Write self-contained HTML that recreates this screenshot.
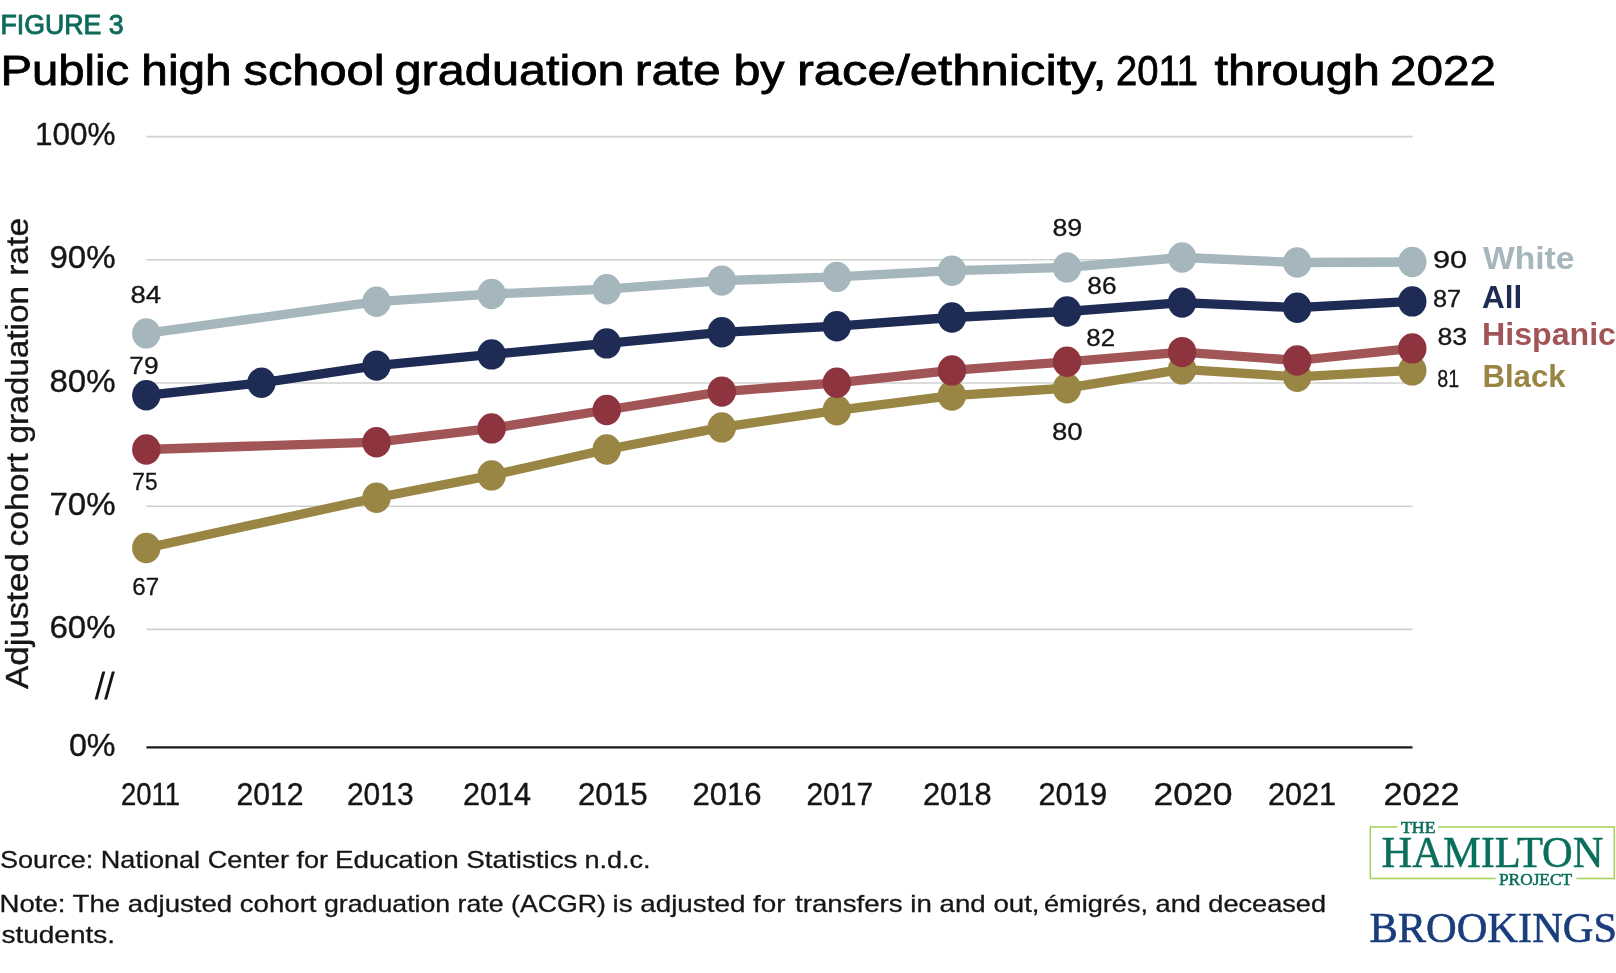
<!DOCTYPE html>
<html lang="en"><head><meta charset="utf-8"><title>Figure 3</title>
<style>
html,body{margin:0;padding:0;background:#fff;}
body{width:1616px;height:973px;overflow:hidden;font-family:"Liberation Sans",sans-serif;}
svg{display:block;will-change:transform;}
svg text{font-family:"Liberation Sans",sans-serif;}
svg text.serif{font-family:"Liberation Serif",serif;}
</style></head><body>
<svg width="1616" height="973" viewBox="0 0 1616 973">
<rect width="1616" height="973" fill="#fff"/>
<line x1="146.5" x2="1412.5" y1="136.6" y2="136.6" stroke="#d0d0d0" stroke-width="1.6"/>
<line x1="146.5" x2="1412.5" y1="259.8" y2="259.8" stroke="#d0d0d0" stroke-width="1.6"/>
<line x1="146.5" x2="1412.5" y1="383.0" y2="383.0" stroke="#d0d0d0" stroke-width="1.6"/>
<line x1="146.5" x2="1412.5" y1="506.2" y2="506.2" stroke="#d0d0d0" stroke-width="1.6"/>
<line x1="146.5" x2="1412.5" y1="629.4" y2="629.4" stroke="#d0d0d0" stroke-width="1.6"/>
<line x1="146.5" x2="1412.5" y1="747.4" y2="747.4" stroke="#1a1a1a" stroke-width="2.2"/>
<path d="M94.6 699.5 H97.6 L105.3 671.6 H102.3 Z M104.1 699.5 H107.1 L114.9 671.6 H111.9 Z" fill="#161616"/>
<polyline points="146.3,548.0 376.5,497.8 491.6,475.4 606.7,449.5 721.8,427.4 836.8,410.3 951.9,395.6 1067.0,388.2 1182.1,369.4 1297.2,376.8 1412.3,370.4" fill="none" stroke="#9a8644" stroke-width="9.3" stroke-linejoin="round" stroke-linecap="round"/>
<ellipse cx="146.3" cy="548.0" rx="14.2" ry="15.2" fill="#9a8644"/><ellipse cx="376.5" cy="497.8" rx="14.2" ry="15.2" fill="#9a8644"/><ellipse cx="491.6" cy="475.4" rx="14.2" ry="15.2" fill="#9a8644"/><ellipse cx="606.7" cy="449.5" rx="14.2" ry="15.2" fill="#9a8644"/><ellipse cx="721.8" cy="427.4" rx="14.2" ry="15.2" fill="#9a8644"/><ellipse cx="836.8" cy="410.3" rx="14.2" ry="15.2" fill="#9a8644"/><ellipse cx="951.9" cy="395.6" rx="14.2" ry="15.2" fill="#9a8644"/><ellipse cx="1067.0" cy="388.2" rx="14.2" ry="15.2" fill="#9a8644"/><ellipse cx="1182.1" cy="369.4" rx="14.2" ry="15.2" fill="#9a8644"/><ellipse cx="1297.2" cy="376.8" rx="14.2" ry="15.2" fill="#9a8644"/><ellipse cx="1412.3" cy="370.4" rx="14.2" ry="15.2" fill="#9a8644"/>
<polyline points="146.3,449.5 376.5,442.2 491.6,428.4 606.7,410.0 721.8,391.6 836.8,382.8 951.9,370.4 1067.0,361.8 1182.1,352.1 1297.2,360.5 1412.3,348.4" fill="none" stroke="#a25557" stroke-width="9.3" stroke-linejoin="round" stroke-linecap="round"/>
<ellipse cx="146.3" cy="449.5" rx="14.2" ry="15.2" fill="#8e343e"/><ellipse cx="376.5" cy="442.2" rx="14.2" ry="15.2" fill="#8e343e"/><ellipse cx="491.6" cy="428.4" rx="14.2" ry="15.2" fill="#8e343e"/><ellipse cx="606.7" cy="410.0" rx="14.2" ry="15.2" fill="#8e343e"/><ellipse cx="721.8" cy="391.6" rx="14.2" ry="15.2" fill="#8e343e"/><ellipse cx="836.8" cy="382.8" rx="14.2" ry="15.2" fill="#8e343e"/><ellipse cx="951.9" cy="370.4" rx="14.2" ry="15.2" fill="#8e343e"/><ellipse cx="1067.0" cy="361.8" rx="14.2" ry="15.2" fill="#8e343e"/><ellipse cx="1182.1" cy="352.1" rx="14.2" ry="15.2" fill="#8e343e"/><ellipse cx="1297.2" cy="360.5" rx="14.2" ry="15.2" fill="#8e343e"/><ellipse cx="1412.3" cy="348.4" rx="14.2" ry="15.2" fill="#8e343e"/>
<polyline points="146.3,395.3 261.4,382.8 376.5,365.6 491.6,354.4 606.7,343.4 721.8,332.3 836.8,326.2 951.9,317.5 1067.0,311.5 1182.1,302.6 1297.2,307.7 1412.3,301.4" fill="none" stroke="#1e2b54" stroke-width="9.3" stroke-linejoin="round" stroke-linecap="round"/>
<ellipse cx="146.3" cy="395.3" rx="14.2" ry="15.2" fill="#1e2b54"/><ellipse cx="261.4" cy="382.8" rx="14.2" ry="15.2" fill="#1e2b54"/><ellipse cx="376.5" cy="365.6" rx="14.2" ry="15.2" fill="#1e2b54"/><ellipse cx="491.6" cy="354.4" rx="14.2" ry="15.2" fill="#1e2b54"/><ellipse cx="606.7" cy="343.4" rx="14.2" ry="15.2" fill="#1e2b54"/><ellipse cx="721.8" cy="332.3" rx="14.2" ry="15.2" fill="#1e2b54"/><ellipse cx="836.8" cy="326.2" rx="14.2" ry="15.2" fill="#1e2b54"/><ellipse cx="951.9" cy="317.5" rx="14.2" ry="15.2" fill="#1e2b54"/><ellipse cx="1067.0" cy="311.5" rx="14.2" ry="15.2" fill="#1e2b54"/><ellipse cx="1182.1" cy="302.6" rx="14.2" ry="15.2" fill="#1e2b54"/><ellipse cx="1297.2" cy="307.7" rx="14.2" ry="15.2" fill="#1e2b54"/><ellipse cx="1412.3" cy="301.4" rx="14.2" ry="15.2" fill="#1e2b54"/>
<polyline points="146.3,333.4 376.5,301.7 491.6,294.0 606.7,289.2 721.8,280.6 836.8,276.9 951.9,270.7 1067.0,267.4 1182.1,257.5 1297.2,262.5 1412.3,262.0" fill="none" stroke="#a5b7bc" stroke-width="9.3" stroke-linejoin="round" stroke-linecap="round"/>
<ellipse cx="146.3" cy="333.4" rx="14.2" ry="15.2" fill="#a5b7bc"/><ellipse cx="376.5" cy="301.7" rx="14.2" ry="15.2" fill="#a5b7bc"/><ellipse cx="491.6" cy="294.0" rx="14.2" ry="15.2" fill="#a5b7bc"/><ellipse cx="606.7" cy="289.2" rx="14.2" ry="15.2" fill="#a5b7bc"/><ellipse cx="721.8" cy="280.6" rx="14.2" ry="15.2" fill="#a5b7bc"/><ellipse cx="836.8" cy="276.9" rx="14.2" ry="15.2" fill="#a5b7bc"/><ellipse cx="951.9" cy="270.7" rx="14.2" ry="15.2" fill="#a5b7bc"/><ellipse cx="1067.0" cy="267.4" rx="14.2" ry="15.2" fill="#a5b7bc"/><ellipse cx="1182.1" cy="257.5" rx="14.2" ry="15.2" fill="#a5b7bc"/><ellipse cx="1297.2" cy="262.5" rx="14.2" ry="15.2" fill="#a5b7bc"/><ellipse cx="1412.3" cy="262.0" rx="14.2" ry="15.2" fill="#a5b7bc"/>
<path d="M1397.7 826.9 H1370.3 V878.5 H1495.7 M1576.3 878.5 H1614.3 V826.9 H1438.1" fill="none" stroke="#a4cf5a" stroke-width="1.5"/>
<text transform="translate(28.0,689.1) rotate(-90)" font-size="30.5" textLength="136.02" lengthAdjust="spacingAndGlyphs" fill="#161616" stroke="#161616" stroke-width="0.35">Adjusted</text>
<text transform="translate(28.0,546.41) rotate(-90)" font-size="30.5" textLength="93.21" lengthAdjust="spacingAndGlyphs" fill="#161616" stroke="#161616" stroke-width="0.35">cohort</text>
<text transform="translate(28.0,443.51) rotate(-90)" font-size="30.5" textLength="157.64" lengthAdjust="spacingAndGlyphs" fill="#161616" stroke="#161616" stroke-width="0.35">graduation</text>
<text transform="translate(28.0,275.86) rotate(-90)" font-size="30.5" textLength="58.09" lengthAdjust="spacingAndGlyphs" fill="#161616" stroke="#161616" stroke-width="0.35">rate</text>
<text x="0.44" y="34.4" font-size="27.6" textLength="123.12" lengthAdjust="spacingAndGlyphs" fill="#0d6b5c" stroke="#0d6b5c" stroke-width="0.9">FIGURE 3</text>
<text x="0.41" y="85.1" font-size="43.2" textLength="128.62" lengthAdjust="spacingAndGlyphs" fill="#000" stroke="#000" stroke-width="0.8">Public</text>
<text x="141.35" y="85.1" font-size="43.2" textLength="90.29" lengthAdjust="spacingAndGlyphs" fill="#000" stroke="#000" stroke-width="0.8">high</text>
<text x="243.49" y="85.1" font-size="43.2" textLength="141.06" lengthAdjust="spacingAndGlyphs" fill="#000" stroke="#000" stroke-width="0.8">school</text>
<text x="394.48" y="85.1" font-size="43.2" textLength="230.06" lengthAdjust="spacingAndGlyphs" fill="#000" stroke="#000" stroke-width="0.8">graduation</text>
<text x="634.87" y="85.1" font-size="43.2" textLength="85.73" lengthAdjust="spacingAndGlyphs" fill="#000" stroke="#000" stroke-width="0.8">rate</text>
<text x="733.4" y="85.1" font-size="43.2" textLength="51.12" lengthAdjust="spacingAndGlyphs" fill="#000" stroke="#000" stroke-width="0.8">by</text>
<text x="796.95" y="85.1" font-size="43.2" textLength="309.64" lengthAdjust="spacingAndGlyphs" fill="#000" stroke="#000" stroke-width="0.8">race/ethnicity,</text>
<text x="1115.98" y="85.1" font-size="43.2" textLength="82.08" lengthAdjust="spacingAndGlyphs" fill="#000" stroke="#000" stroke-width="0.8">2011</text>
<text x="1214.48" y="85.1" font-size="43.2" textLength="165.56" lengthAdjust="spacingAndGlyphs" fill="#000" stroke="#000" stroke-width="0.8">through</text>
<text x="1389.92" y="85.1" font-size="43.2" textLength="106.15" lengthAdjust="spacingAndGlyphs" fill="#000" stroke="#000" stroke-width="0.8">2022</text>
<text x="34.93" y="145.1" font-size="32.0" textLength="80.62" lengthAdjust="spacingAndGlyphs" fill="#161616" stroke="#161616" stroke-width="0.4">100%</text>
<text x="49.45" y="268.3" font-size="32.0" textLength="66.08" lengthAdjust="spacingAndGlyphs" fill="#161616" stroke="#161616" stroke-width="0.4">90%</text>
<text x="49.47" y="391.5" font-size="32.0" textLength="66.05" lengthAdjust="spacingAndGlyphs" fill="#161616" stroke="#161616" stroke-width="0.4">80%</text>
<text x="49.45" y="514.7" font-size="32.0" textLength="66.1" lengthAdjust="spacingAndGlyphs" fill="#161616" stroke="#161616" stroke-width="0.4">70%</text>
<text x="49.44" y="637.9" font-size="32.0" textLength="66.11" lengthAdjust="spacingAndGlyphs" fill="#161616" stroke="#161616" stroke-width="0.4">60%</text>
<text x="68.95" y="755.9" font-size="32.0" textLength="46.6" lengthAdjust="spacingAndGlyphs" fill="#161616" stroke="#161616" stroke-width="0.4">0%</text>
<text x="120.96" y="804.7" font-size="32.2" textLength="59.09" lengthAdjust="spacingAndGlyphs" fill="#161616" stroke="#161616" stroke-width="0.4">2011</text>
<text x="236.43" y="804.7" font-size="32.2" textLength="67.14" lengthAdjust="spacingAndGlyphs" fill="#161616" stroke="#161616" stroke-width="0.4">2012</text>
<text x="346.94" y="804.7" font-size="32.2" textLength="66.63" lengthAdjust="spacingAndGlyphs" fill="#161616" stroke="#161616" stroke-width="0.4">2013</text>
<text x="462.97" y="804.7" font-size="32.2" textLength="68.08" lengthAdjust="spacingAndGlyphs" fill="#161616" stroke="#161616" stroke-width="0.4">2014</text>
<text x="577.94" y="804.7" font-size="32.2" textLength="69.62" lengthAdjust="spacingAndGlyphs" fill="#161616" stroke="#161616" stroke-width="0.4">2015</text>
<text x="692.42" y="804.7" font-size="32.2" textLength="69.14" lengthAdjust="spacingAndGlyphs" fill="#161616" stroke="#161616" stroke-width="0.4">2016</text>
<text x="806.45" y="804.7" font-size="32.2" textLength="66.6" lengthAdjust="spacingAndGlyphs" fill="#161616" stroke="#161616" stroke-width="0.4">2017</text>
<text x="922.94" y="804.7" font-size="32.2" textLength="68.61" lengthAdjust="spacingAndGlyphs" fill="#161616" stroke="#161616" stroke-width="0.4">2018</text>
<text x="1038.46" y="804.7" font-size="32.2" textLength="68.58" lengthAdjust="spacingAndGlyphs" fill="#161616" stroke="#161616" stroke-width="0.4">2019</text>
<text x="1153.44" y="804.7" font-size="32.2" textLength="79.09" lengthAdjust="spacingAndGlyphs" fill="#161616" stroke="#161616" stroke-width="0.4">2020</text>
<text x="1267.94" y="804.7" font-size="32.2" textLength="68.13" lengthAdjust="spacingAndGlyphs" fill="#161616" stroke="#161616" stroke-width="0.4">2021</text>
<text x="1383.45" y="804.7" font-size="32.2" textLength="76.1" lengthAdjust="spacingAndGlyphs" fill="#161616" stroke="#161616" stroke-width="0.4">2022</text>
<text x="130.44" y="303.09999999999997" font-size="23.7" textLength="30.68" lengthAdjust="spacingAndGlyphs" fill="#161616" stroke="#161616" stroke-width="0.3">84</text>
<text x="129.37" y="373.9" font-size="23.7" textLength="29.27" lengthAdjust="spacingAndGlyphs" fill="#161616" stroke="#161616" stroke-width="0.3">79</text>
<text x="132.35" y="489.79999999999995" font-size="23.7" textLength="25.21" lengthAdjust="spacingAndGlyphs" fill="#161616" stroke="#161616" stroke-width="0.3">75</text>
<text x="132.37" y="594.6999999999999" font-size="23.7" textLength="26.76" lengthAdjust="spacingAndGlyphs" fill="#161616" stroke="#161616" stroke-width="0.3">67</text>
<text x="1052.4" y="236.0" font-size="23.7" textLength="29.77" lengthAdjust="spacingAndGlyphs" fill="#161616" stroke="#161616" stroke-width="0.3">89</text>
<text x="1087.35" y="294.0" font-size="23.7" textLength="29.24" lengthAdjust="spacingAndGlyphs" fill="#161616" stroke="#161616" stroke-width="0.3">86</text>
<text x="1086.35" y="345.5" font-size="23.7" textLength="28.81" lengthAdjust="spacingAndGlyphs" fill="#161616" stroke="#161616" stroke-width="0.3">82</text>
<text x="1051.91" y="440.4" font-size="23.7" textLength="30.62" lengthAdjust="spacingAndGlyphs" fill="#161616" stroke="#161616" stroke-width="0.3">80</text>
<text x="1432.94" y="268.4" font-size="23.7" textLength="34.13" lengthAdjust="spacingAndGlyphs" fill="#161616" stroke="#161616" stroke-width="0.3">90</text>
<text x="1432.94" y="307.2" font-size="23.7" textLength="28.2" lengthAdjust="spacingAndGlyphs" fill="#161616" stroke="#161616" stroke-width="0.3">87</text>
<text x="1437.41" y="344.9" font-size="23.7" textLength="29.66" lengthAdjust="spacingAndGlyphs" fill="#161616" stroke="#161616" stroke-width="0.3">83</text>
<text x="1437.32" y="386.7" font-size="23.7" textLength="21.9" lengthAdjust="spacingAndGlyphs" fill="#161616" stroke="#161616" stroke-width="0.3">81</text>
<text x="1482.95" y="268.8" font-size="30.6" textLength="91.61" lengthAdjust="spacingAndGlyphs" fill="#a5b7bc" font-weight="bold">White</text>
<text x="1481.97" y="307.7" font-size="30.6" textLength="40.17" lengthAdjust="spacingAndGlyphs" fill="#1e2b54" font-weight="bold">All</text>
<text x="1482.0" y="345.0" font-size="30.6" textLength="134.0" lengthAdjust="spacingAndGlyphs" fill="#a25557" font-weight="bold">Hispanic</text>
<text x="1482.41" y="386.8" font-size="30.6" textLength="83.14" lengthAdjust="spacingAndGlyphs" fill="#9a8644" font-weight="bold">Black</text>
<text x="-0.01" y="867.6" font-size="24.0" textLength="328.01" lengthAdjust="spacingAndGlyphs" fill="#161616" stroke="#161616" stroke-width="0.3">Source: National Center for</text>
<text x="334.97" y="867.6" font-size="24.0" textLength="242.55" lengthAdjust="spacingAndGlyphs" fill="#161616" stroke="#161616" stroke-width="0.3">Education Statistics</text>
<text x="584.41" y="867.6" font-size="24.0" textLength="66.24" lengthAdjust="spacingAndGlyphs" fill="#161616" stroke="#161616" stroke-width="0.3">n.d.c.</text>
<text x="-0.52" y="912.2" font-size="24.0" textLength="317.03" lengthAdjust="spacingAndGlyphs" fill="#161616" stroke="#161616" stroke-width="0.3">Note: The adjusted cohort</text>
<text x="323.99" y="912.2" font-size="24.0" textLength="282.02" lengthAdjust="spacingAndGlyphs" fill="#161616" stroke="#161616" stroke-width="0.3">graduation rate (ACGR)</text>
<text x="612.49" y="912.2" font-size="24.0" textLength="173.02" lengthAdjust="spacingAndGlyphs" fill="#161616" stroke="#161616" stroke-width="0.3">is adjusted for</text>
<text x="795.0" y="912.2" font-size="24.0" textLength="244.53" lengthAdjust="spacingAndGlyphs" fill="#161616" stroke="#161616" stroke-width="0.3">transfers in and out,</text>
<text x="1043.99" y="912.2" font-size="24.0" textLength="282.03" lengthAdjust="spacingAndGlyphs" fill="#161616" stroke="#161616" stroke-width="0.3">émigrés, and deceased</text>
<text x="1.47" y="942.8" font-size="24.0" textLength="113.58" lengthAdjust="spacingAndGlyphs" fill="#161616" stroke="#161616" stroke-width="0.3">students.</text>
<text class="serif" x="1401.0" y="833.0" font-size="16.8" textLength="34.57" lengthAdjust="spacingAndGlyphs" fill="#0a6e5c" stroke="#0a6e5c" stroke-width="0.55">THE</text>
<text class="serif" x="1381.49" y="867.3" font-size="44" textLength="222.02" lengthAdjust="spacingAndGlyphs" fill="#0a6e5c" stroke="#0a6e5c" stroke-width="0.5">HAMILTON</text>
<text class="serif" x="1499.0" y="884.9" font-size="16.8" textLength="73.04" lengthAdjust="spacingAndGlyphs" fill="#0a6e5c" stroke="#0a6e5c" stroke-width="0.55">PROJECT</text>
<text class="serif" x="1369.49" y="942.2" font-size="43.2" textLength="247.54" lengthAdjust="spacingAndGlyphs" fill="#1a3d7c" stroke="#1a3d7c" stroke-width="0.6">BROOKINGS</text>
</svg>
</body></html>
